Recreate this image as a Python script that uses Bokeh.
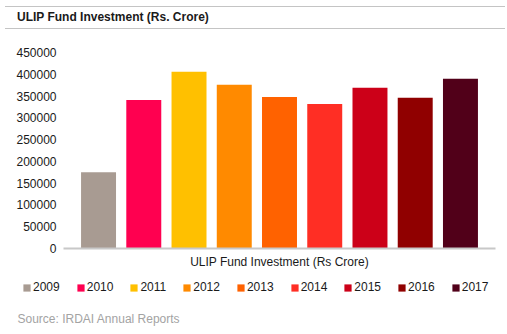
from bokeh.plotting import figure
from bokeh.models import (FactorRange, Range1d, FixedTicker, BasicTickFormatter,
                          Legend, LegendItem, Label, Div, ColumnDataSource)
from bokeh.layouts import column
from bokeh.embed import file_html
from bokeh.resources import INLINE

years = ["2009", "2010", "2011", "2012", "2013", "2014", "2015", "2016", "2017"]
values = [175000, 341000, 406000, 376000, 348000, 332000, 369000, 346000, 390000]
colors = ["#A89B92", "#FF0050", "#FFC000", "#FF8A00", "#FF6200", "#FF2E24",
          "#CC0018", "#900000", "#510019"]
y_ticks = [0, 50000, 100000, 150000, 200000, 250000, 300000, 350000, 400000, 450000]

FONT = "Liberation Sans"

title_html = (
    '<div style="margin-top:6px;margin-left:5px;width:500px;height:23px;'
    'box-sizing:border-box;border-top:1px solid #c4c4c4;border-bottom:1px solid #c4c4c4;'
    'line-height:21px;padding-left:12px;font-family:\'Liberation Sans\',Arial,sans-serif;'
    'font-weight:bold;font-size:12px;color:#1a1a1a;">'
    'ULIP Fund Investment (Rs. Crore)</div>'
)
header = Div(text=title_html, width=507, height=30, margin=0)

src = ColumnDataSource(dict(year=years, value=values, color=colors))

# ---- main chart ----
p = figure(width=507, height=242, x_range=FactorRange(factors=years, range_padding=0.061),
           y_range=Range1d(0, 450000), output_backend="svg", toolbar_location=None,
           min_border_top=22, min_border_left=63, min_border_right=12, min_border_bottom=24)
p.frame_align = False
p.outline_line_color = None
p.xgrid.grid_line_color = None
p.ygrid.grid_line_color = None
p.background_fill_color = "white"
p.border_fill_color = "white"

p.vbar(x="year", top="value", width=0.773, source=src, fill_color="color", line_color=None)

ya = p.yaxis[0]
ya.ticker = FixedTicker(ticks=y_ticks)
ya.formatter = BasicTickFormatter(use_scientific=False)
ya.axis_line_color = None
ya.major_tick_line_color = None
ya.minor_tick_line_color = None
ya.major_tick_out = 0
ya.major_label_standoff = 7
ya.major_label_text_font = FONT
ya.major_label_text_font_size = "12px"
ya.major_label_text_color = "#1a1a1a"

xa = p.xaxis[0]
xa.ticker = FixedTicker(ticks=[])
xa.axis_line_color = "#c8c8c8"
xa.axis_line_width = 2
xa.major_tick_line_color = None
xa.minor_tick_line_color = None
xa.major_tick_out = 0
xa.major_label_standoff = 0
xa.axis_label = "ULIP Fund Investment (Rs Crore)"
xa.axis_label_text_font = FONT
xa.axis_label_text_font_size = "12px"
xa.axis_label_text_font_style = "normal"
xa.axis_label_text_color = "#1a1a1a"
xa.axis_label_standoff = 6

# ---- legend + source strip ----
q = figure(width=507, height=62, x_range=FactorRange(factors=years),
           y_range=Range1d(0, 1), output_backend="svg", toolbar_location=None,
           x_axis_type=None, y_axis_type=None,
           min_border=0, min_border_left=0, min_border_right=0,
           min_border_top=0, min_border_bottom=0)
q.frame_align = False
q.outline_line_color = None
q.grid.grid_line_color = None
q.background_fill_color = "white"
q.border_fill_color = "white"
rq = q.vbar(x="year", top="value", width=0.773, source=src, fill_color="color",
            line_color=None, visible=False)

items = [LegendItem(label=y, renderers=[rq], index=i) for i, y in enumerate(years)]
legend = Legend(items=items, orientation="horizontal", location=(22, 40),
                glyph_width=9, glyph_height=9, label_standoff=2, spacing=16,
                padding=4, margin=0, label_height=13,
                label_text_font=FONT, label_text_font_size="12px",
                label_text_color="#1a1a1a", border_line_color=None,
                background_fill_alpha=0)
q.add_layout(legend, "center")

q.add_layout(Label(x=17, y=16, x_units="screen", y_units="screen",
                   text="Source: IRDAI Annual Reports", text_font=FONT,
                   text_font_size="12px", text_color="#a3a3a3",
                   text_baseline="middle", text_align="left"))

layout = column(header, p, q, spacing=0)
open("out.html", "w").write(file_html(layout, INLINE))
